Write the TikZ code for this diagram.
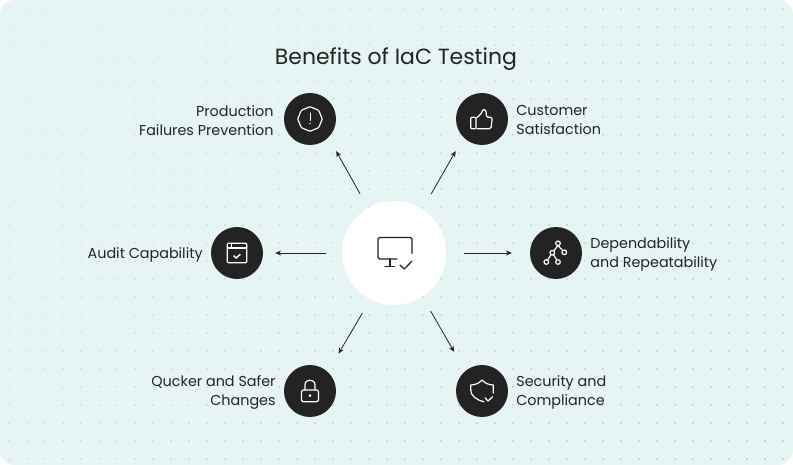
\documentclass[tikz,border=0pt]{standalone}
\usepackage{fontspec}
\setmainfont{Poppins}
\usepackage{xcolor}
\usetikzlibrary{arrows.meta,positioning}
\definecolor{panelbg}{HTML}{E6F4F4}
\definecolor{dotlight}{HTML}{E0EDEE}
\definecolor{dotdark}{HTML}{C6D3D5}
\definecolor{ink}{HTML}{232323}

\begin{document}
\begin{tikzpicture}[
    x=1pt, y=-1pt,
    hub/.style={circle, fill=white, minimum size=104pt, inner sep=0pt},
    badge/.style={circle, fill=ink, minimum size=52pt, inner sep=0pt},
    label/.style={inner sep=0pt, text=ink, yshift=-1.5pt, font=\fontsize{14.35}{19}\selectfont},
    arrow/.style={-{Stealth[length=6pt,width=5pt]}, ink, line width=0.8pt},
    icon/.style={white, line width=1.2pt, line join=round, line cap=round}
]
    \useasboundingbox (0,0) rectangle (793,465);
    \fill[white] (0,0) rectangle (793,465);
    \fill[panelbg, rounded corners=15pt] (0,0) rectangle (793,465);

    % Dots
    \foreach \i in {0,...,43} {
        \foreach \j in {0,...,25} {
            \pgfmathtruncatemacro{\shade}{(\i*18+\j*18)/12}
            \fill[dotdark!\shade!dotlight] ({8+\i*18},{8+\j*18}) rectangle ++(2,2);
        }
    }

    % Title
    \node[text=ink, inner sep=0pt, font=\fontsize{21.95}{27}\selectfont] (title) at (396,59) {Benefits of IaC Testing};

    % Nodes
    \node[hub] (monitor) at (394,253) {};
    \node[badge] (failures) at (310,119) {};
    \node[badge] (customer) at (482,119) {};
    \node[badge] (audit) at (237,253) {};
    \node[badge] (depend) at (556,253) {};
    \node[badge] (changes) at (310,391) {};
    \node[badge] (security) at (482,391) {};

    % Labels
    \node[label, align=right, left=10pt of failures] (failurestext) {Production\\Failures Prevention};
    \node[label, align=left, right=8pt of customer] (customertext) {Customer\\Satisfaction};
    \node[label, left=8pt of audit] (audittext) {Audit Capability};
    \node[label, align=left, right=8pt of depend] (dependtext) {Dependability\\and Repeatability};
    \node[label, align=right, left=8pt of changes] (changestext) {Qucker and Safer\\Changes};
    \node[label, align=left, right=8pt of security] (securitytext) {Security and\\Compliance};

    % Arrows
    \draw[arrow, shorten <=16pt, shorten >=15.6pt] (monitor.120) -- (failures.-45);
    \draw[arrow, shorten <=17.8pt, shorten >=15.6pt] (monitor.57) -- (customer.225);
    \draw[arrow, shorten <=16pt, shorten >=12pt] (monitor.west) -- (audit.east);
    \draw[arrow, shorten <=18pt, shorten >=18pt] (monitor.east) -- (depend.west);
    \draw[arrow, shorten <=15.7pt, shorten >=21pt] (monitor.243) -- (changes.47);
    \draw[arrow, shorten <=16.6pt, shorten >=22pt] (monitor.-57) -- (security.130);

    % Icons
    \begin{scope}[shift={([yshift=0.5pt]monitor.center)}, ink, line width=1.3pt, line cap=round, line join=round]
        \draw[rounded corners=1.5pt] (18,1) -- (18,-15) -- (-16,-15) -- (-16,6.5) -- (3,6.5);
        \draw (-4,6.5) -- (-4,14) (-9,14.2) -- (0.5,14.2);
        \draw (6,12.5) -- (10.3,16.5) -- (18,8.5);
    \end{scope}
    \begin{scope}[shift={(failures.center)}, icon]
        \draw[rounded corners=1pt] (0:12.3) -- (45:12.3) -- (90:12.3) -- (135:12.3) -- (180:12.3) -- (225:12.3) -- (270:12.3) -- (315:12.3) -- cycle;
        \draw[line width=1pt] (0,-6) -- (0,1.5);
        \fill (0,4.6) circle (0.8);
    \end{scope}
    \begin{scope}[shift={(customer.center)}, icon]
        \draw[rounded corners=1pt] (-11.3,-1.7) rectangle (-6,9.7);
        \draw[rounded corners=1.5pt] (-5,-1.5) -- (0,-6) -- (0.5,-9.8) -- (4,-9) -- (4.5,-1.7) -- (10.3,-1.7) -- (9,9.7) -- (-5,9.7);
    \end{scope}
    \begin{scope}[shift={(audit.center)}, icon]
        \draw[rounded corners=1pt] (-9.7,-9.7) rectangle (9.7,9.7);
        \draw (-9.7,-5) -- (9.7,-5) (-5.3,-9.7) -- (-5.3,-5);
        \draw[line width=1.5pt] (-3,3) -- (-0.8,5) -- (3,1.5);
    \end{scope}
    \begin{scope}[shift={(depend.center)}, icon]
        \draw (2,-7.5) -- (-3.7,-0.3) (2,-7.5) -- (8.3,-0.7) (-3.7,-0.3) -- (-9.7,9) (-3.7,-0.3) -- (2,9);
        \foreach \p in {(2,-9.7),(8.3,-0.7),(-3.7,-0.3),(-9.7,9),(2,9)} {
            \draw[fill=ink] \p circle (2.3);
        }
    \end{scope}
    \begin{scope}[shift={(changes.center)}, icon]
        \draw[rounded corners=1.5pt] (-8.5,-1) rectangle (8.5,10.7);
        \draw (-5,-1) -- (-5,-6) .. controls (-5,-12.5) and (5,-12.5) .. (5,-6) -- (5,-1);
        \fill (0,4.7) circle (1.5);
    \end{scope}
    \begin{scope}[shift={(security.center)}, icon]
        \draw (11.3,2) -- (11.3,-6) .. controls (7,-6.2) and (3,-7.5) .. (0,-11) .. controls (-3,-7.5) and (-7,-6.2) .. (-11.3,-6) -- (-11.3,-1) .. controls (-11.3,4.5) and (-6,9) .. (2,10.7);
        \draw (3,6.7) -- (6,10) -- (10.7,5.7);
    \end{scope}
\end{tikzpicture}
\end{document}
